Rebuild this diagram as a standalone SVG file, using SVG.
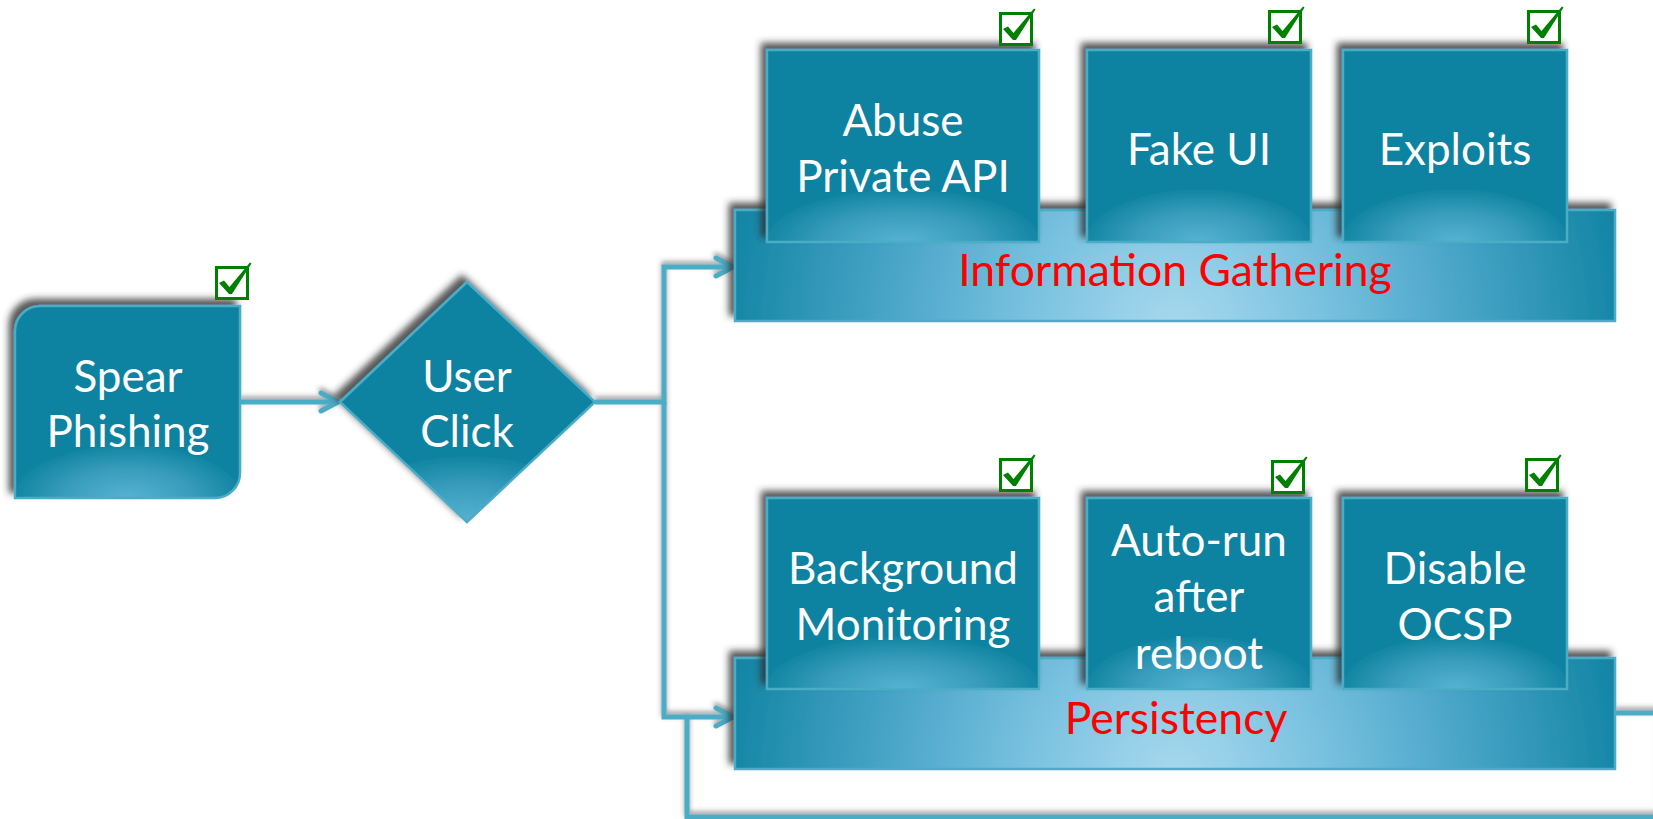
<svg xmlns="http://www.w3.org/2000/svg" width="1653" height="819" viewBox="0 0 1653 819">
<defs>
<style>
.box{fill:url(#boxGrad);stroke:#4bacc6;stroke-width:2.5;filter:url(#sh)}
.bar{fill:url(#barGrad);stroke:#4bacc6;stroke-width:2.5;filter:url(#sh)}
.t{font-family:Lato,'Liberation Sans',sans-serif;font-size:44px;fill:#ffffff;text-anchor:middle}
.r{font-family:Lato,'Liberation Sans',sans-serif;font-size:44.5px;fill:#ff0000;text-anchor:middle}
.conn{fill:none;stroke:#4bacc6;stroke-width:5;stroke-linejoin:miter}
.cb{fill:#ffffff;stroke:#008000;stroke-width:3}
.tick{fill:#008000}
</style>
<filter id="sh" x="-10%" y="-20%" width="120%" height="140%">
<feDropShadow dx="-5" dy="-6" stdDeviation="3.5" flood-color="#2a2a2a" flood-opacity="0.8"/>
</filter>
<filter id="lsh" x="-5%" y="-50%" width="110%" height="200%">
<feDropShadow dx="0" dy="-3" stdDeviation="2.5" flood-color="#444444" flood-opacity="0.55"/>
</filter>
<radialGradient id="boxGrad" cx="0.5" cy="1" r="1" gradientTransform="translate(0.5 1) scale(0.52 0.28) translate(-0.5 -1)">
<stop offset="0" stop-color="#58b2d1"/>
<stop offset="0.55" stop-color="#389cbd"/>
<stop offset="0.93" stop-color="#1688a5"/>
<stop offset="1" stop-color="#0e82a1"/>
</radialGradient>
<radialGradient id="barGrad" cx="0.5" cy="1.1" r="1" gradientTransform="translate(0.5 1.1) scale(0.53 4.2) translate(-0.5 -1.1)">
<stop offset="0" stop-color="#a9d9ee"/>
<stop offset="0.3" stop-color="#7cc3e1"/>
<stop offset="0.65" stop-color="#44a2c5"/>
<stop offset="1" stop-color="#0e82a1"/>
</radialGradient>
<marker id="arr" viewBox="0 0 24 24" refX="21" refY="12" markerWidth="24" markerHeight="24" markerUnits="userSpaceOnUse" orient="auto">
<path d="M4,3 L21,12 L4,21" fill="none" stroke="#4bacc6" stroke-width="5" stroke-linecap="round" stroke-linejoin="round"/>
</marker>
<g id="chk">
<rect class="cb" x="1.5" y="1.5" width="31" height="31"/>
<path class="tick" d="M4,17 L9,14.5 L14.5,21 L35,-3.5 L36.5,-2.5 L17,28 L14,28 Z"/>
</g>
</defs>
<rect x="0" y="0" width="1653" height="819" fill="#ffffff"/>

<g id="connectors" filter="url(#lsh)">
<path class="conn" d="M240,402 H338" marker-end="url(#arr)"/>
<path class="conn" d="M595,402 H664 V267 H733" marker-end="url(#arr)"/>
<path class="conn" d="M664,402 V717 H733" marker-end="url(#arr)"/>
<path class="conn" d="M1615,713 H1660 V817 H687 V717"/>
</g>

<g id="spear-phishing">
<path class="box" d="M15,331 A25,25 0 0 1 40,306 H240 V473 A25,25 0 0 1 215,498 H15 Z"/>
<text class="t" x="128" y="392">Spear</text>
<text class="t" x="128" y="447">Phishing</text>
<use href="#chk" x="215" y="266"/>
</g>

<g id="user-click">
<polygon class="box" points="340,402 467,282 595,402 467,522"/>
<text class="t" x="467" y="392">User</text>
<text class="t" x="467" y="447">Click</text>
</g>

<g id="information-gathering">
<rect class="bar" x="735" y="210" width="880" height="111"/>
<text class="r" x="1175" y="286">Information Gathering</text>
</g>

<g id="abuse-private-api">
<rect class="box" x="767" y="50" width="272" height="192"/>
<text class="t" x="903" y="136">Abuse</text>
<text class="t" x="903" y="192">Private API</text>
<use href="#chk" x="999" y="12"/>
</g>

<g id="fake-ui">
<rect class="box" x="1087" y="50" width="224" height="192"/>
<text class="t" x="1199" y="165">Fake UI</text>
<use href="#chk" x="1268" y="10"/>
</g>

<g id="exploits">
<rect class="box" x="1343" y="50" width="224" height="192"/>
<text class="t" x="1455" y="165">Exploits</text>
<use href="#chk" x="1527" y="10"/>
</g>

<g id="persistency">
<rect class="bar" x="735" y="658" width="880" height="111"/>
<text class="r" x="1176" y="734">Persistency</text>
</g>

<g id="background-monitoring">
<rect class="box" x="767" y="498" width="272" height="191"/>
<text class="t" x="903" y="584">Background</text>
<text class="t" x="903" y="640">Monitoring</text>
<use href="#chk" x="999" y="458"/>
</g>

<g id="auto-run">
<rect class="box" x="1087" y="498" width="224" height="191"/>
<text class="t" x="1199" y="556">Auto-run</text>
<text class="t" x="1199" y="612">after</text>
<text class="t" x="1199" y="669">reboot</text>
<use href="#chk" x="1271" y="460"/>
</g>

<g id="disable-ocsp">
<rect class="box" x="1343" y="498" width="224" height="191"/>
<text class="t" x="1455" y="584">Disable</text>
<text class="t" x="1455" y="640">OCSP</text>
<use href="#chk" x="1525" y="458"/>
</g>
</svg>
